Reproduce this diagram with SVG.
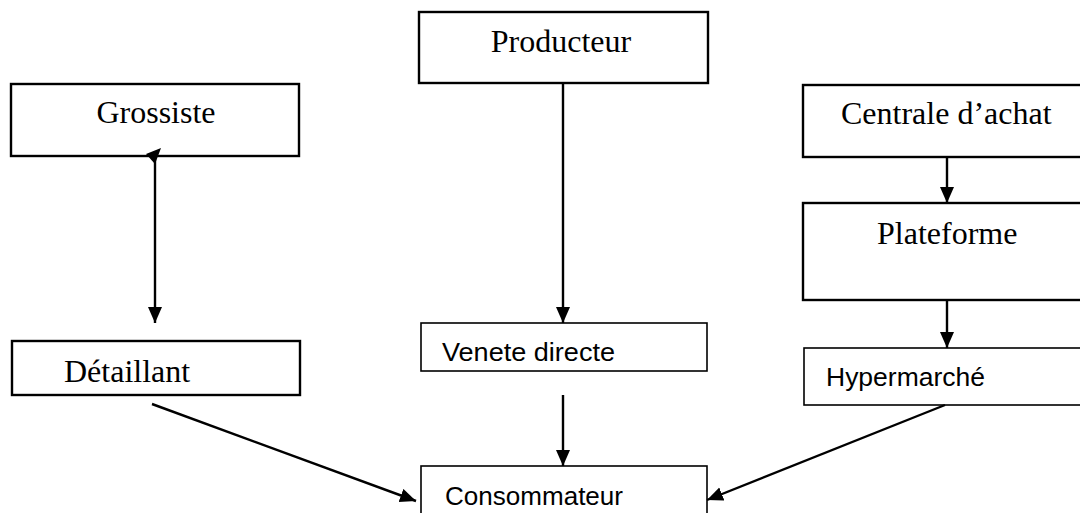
<svg xmlns="http://www.w3.org/2000/svg" width="1080" height="513" viewBox="0 0 1080 513">
<style>
.box{fill:#fff;stroke:#000;stroke-width:2.4}
.thin{fill:#fff;stroke:#000;stroke-width:1.6}
.serif{font-family:"Liberation Serif","Times New Roman",serif;font-size:32px;fill:#000}
.sans{font-family:"Liberation Sans",Arial,sans-serif;font-size:26px;fill:#000}
.conn{stroke:#000;stroke-width:2.4;fill:none;marker-end:url(#ah)}
</style>
<defs>
<marker id="ah" markerUnits="userSpaceOnUse" markerWidth="18" markerHeight="16" refX="16" refY="7" orient="auto">
<path d="M0,0 L16,7 L0,14 Z" fill="#000"/>
</marker>
</defs>
<rect width="1080" height="513" fill="#fff"/>
<g id="producteur"><rect class="box" x="419" y="12" width="289" height="71"/><text class="serif" x="561" y="52" text-anchor="middle">Producteur</text></g>
<g id="grossiste"><rect class="box" x="11" y="84" width="288" height="72"/><text class="serif" x="156" y="123" text-anchor="middle">Grossiste</text></g>
<g id="centrale"><rect class="box" x="803" y="85" width="290" height="72"/><text class="serif" x="841" y="124">Centrale d’achat</text></g>
<g id="plateforme"><rect class="box" x="803" y="203" width="290" height="97"/><text class="serif" x="877" y="244">Plateforme</text></g>
<g id="detaillant"><rect class="box" x="12" y="341" width="288" height="54"/><text class="serif" x="64" y="382">Détaillant</text></g>
<g id="venete"><rect class="thin" x="421" y="323" width="286" height="48"/><text class="sans" x="442" y="361" textLength="173" lengthAdjust="spacingAndGlyphs">Venete directe</text></g>
<g id="hypermarche"><rect class="thin" x="804" y="348" width="290" height="57"/><text class="sans" x="826" y="386" textLength="159" lengthAdjust="spacingAndGlyphs">Hypermarché</text></g>
<g id="consommateur"><rect class="thin" x="421" y="466" width="286" height="60"/><text class="sans" x="445" y="505" textLength="178" lengthAdjust="spacingAndGlyphs">Consommateur</text></g>
<g id="connectors">
<line class="conn" x1="563" y1="83" x2="563" y2="323"/>
<line class="conn" x1="155" y1="152" x2="155" y2="323"/>
<polygon points="146,154 161,148 155,164" fill="#000"/>
<line class="conn" x1="947" y1="157" x2="947" y2="203"/>
<line class="conn" x1="947" y1="300" x2="947" y2="348"/>
<line class="conn" x1="563" y1="395" x2="563" y2="466"/>
<line class="conn" x1="152" y1="404" x2="416" y2="501"/>
<line class="conn" x1="945" y1="405" x2="707" y2="500"/>
</g>
</svg>
